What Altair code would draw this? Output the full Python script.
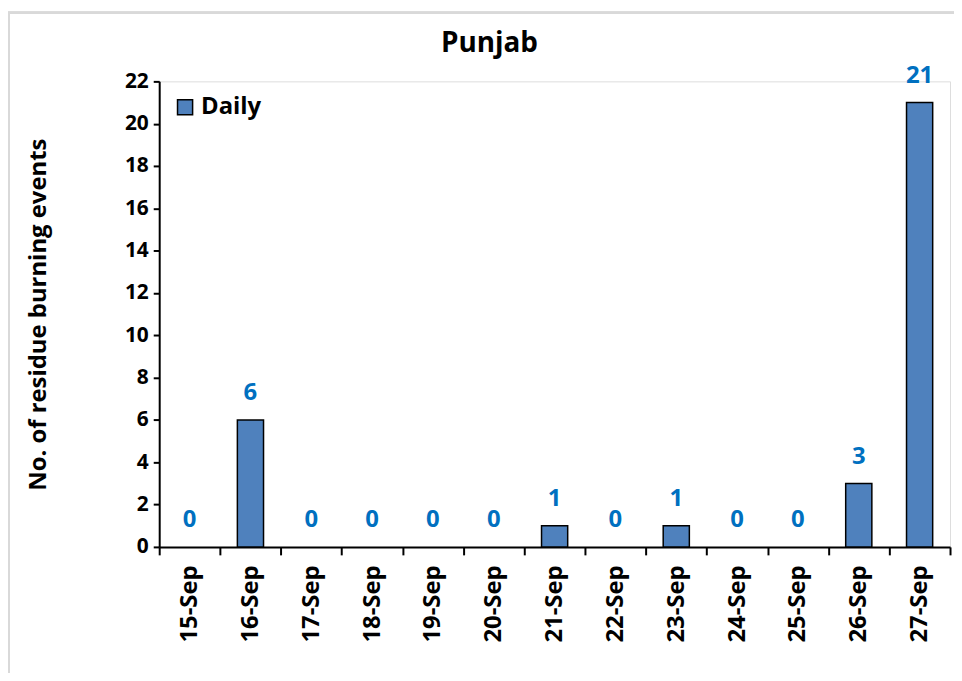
import altair as alt
import pandas as pd

dates = ["15-Sep", "16-Sep", "17-Sep", "18-Sep", "19-Sep", "20-Sep", "21-Sep",
         "22-Sep", "23-Sep", "24-Sep", "25-Sep", "26-Sep", "27-Sep"]
daily = [0, 6, 0, 0, 0, 0, 1, 0, 1, 0, 0, 3, 21]
series = ["Daily"] * len(dates)
y_ticks = list(range(0, 23, 2))
title_text = "Punjab"

df = pd.DataFrame({"date": dates, "events": daily, "series": series})

FONT = "Open Sans"

xscale = alt.Scale(domain=dates, paddingInner=0, paddingOuter=0)

x = alt.X("date:N", sort=dates, title=None, scale=xscale,
          axis=alt.Axis(labelAngle=-90, labelAlign="right", labelBaseline="middle",
                        labelFontSize=24, labelFontWeight="bold", labelColor="black",
                        labelFont=FONT, labelPadding=10, tickBand="extent",
                        tickSize=8, tickColor="black", tickWidth=2,
                        domainColor="black", domainWidth=2, grid=False))
y = alt.Y("events:Q", title="No. of residue burning events",
          scale=alt.Scale(domain=[0, 22], nice=False),
          axis=alt.Axis(values=y_ticks, labelFontSize=21, labelFontWeight="bold",
                        labelColor="black", labelFont=FONT, tickSize=6, labelPadding=5,
                        tickColor="black", tickWidth=2, domainColor="black",
                        domainWidth=2, grid=False, titleFont=FONT, titleFontSize=24,
                        titleFontWeight="bold", titleColor="black", titlePadding=74))

border = alt.Chart(df).mark_rect(fill=None, stroke="#D9D9D9", strokeWidth=2).encode(
    x=alt.value(-151), x2=alt.value(820), y=alt.value(-69), y2=alt.value(700)
)

title = alt.Chart(df).transform_filter("datum.date == '15-Sep'").mark_text(
    font=FONT, fontSize=28, fontWeight="bold", color="black", baseline="middle"
).encode(x=alt.value(332), y=alt.value(-38), text=alt.value(title_text))

bars = alt.Chart(df).transform_filter("datum.events > 0").mark_bar(
    stroke="black", strokeWidth=1.5, width=alt.RelativeBandSize(0.43)
).encode(
    x=x, y=y,
    color=alt.Color("series:N", scale=alt.Scale(domain=["Daily"], range=["#4F81BD"]),
                    legend=alt.Legend(title=None, orient="none", legendX=14, legendY=14,
                                      symbolType="square", symbolSize=230,
                                      symbolStrokeColor="black", symbolStrokeWidth=1.5,
                                      labelFont=FONT, labelFontSize=24,
                                      labelFontWeight="bold", labelColor="black")),
)

labels = alt.Chart(df).mark_text(dy=-15, baseline="bottom", fontSize=24,
                                 fontWeight="bold", font=FONT, color="#0070C0").encode(
    x=alt.X("date:N", sort=dates, scale=xscale), y="events:Q", text="events:Q"
)

chart = (border + title + bars + labels).properties(
    width=795, height=468,
    padding={"left": 152, "top": 72, "right": 4, "bottom": 125},
    autosize=alt.AutoSizeParams(type="none"),
).configure_view(stroke=None).configure(background="white")

chart.save("out.html", embed_options={"renderer": "svg", "actions": False})
